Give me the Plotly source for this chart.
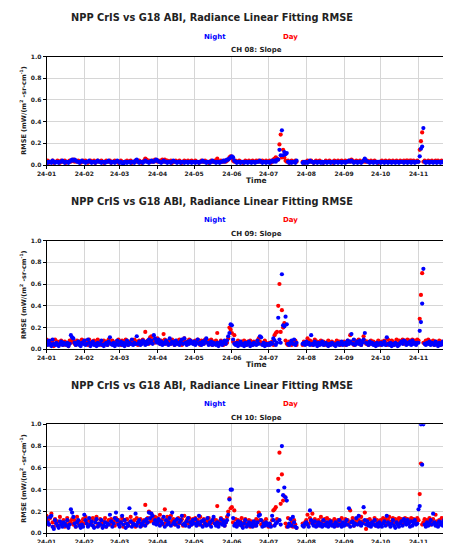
import calendar
import plotly.graph_objects as go

YEAR = 2024
MONTHS = list(range(1, 12))  # Jan .. Nov (axis is cut near the end of November)
N = None  # no matchup on that day

# RMSE values in units of 0.01 mW/(m2 sr cm-1); one list per month, one value per day
CH08_NIGHT = [
    [3,2,3,3,2,4,3,2,3,3, 2,3,3,4,3,2,3,3,2,3, 4,5,4,5,4,3,3,2,3,4, 3],
    [3,2,3,3,4,3,2,3,3,2, 3,4,3,3,2,3,3,2,3,3, 4,3,2,3,3,2,3,4,3],
    [2,3,2,1,3,3,2,3,3,2, 3,3,2,4,5,3,2,3,3,2, 3,4,3,3,2,3,4,3,3,4, 5],
    [4,3,3,2,3,4,3,3,2,3, 3,2,3,4,3,3,2,3,3,2, 3,3,2,3,3,2,3,3,2,3],
    [3,2,3,3,2,3,3,4,3,3, 2,3,3,2,3,4,3,3,2,3, 3,2,3,3,4,3,4,5,5,6, 7],
    [8,7,4,3,2,3,3,2,3,3, 2,3,3,2,3,3,2,3,3,2, 3,3,3,4,3,2,3,3,2,3],
    [3,2,3,4,3,4,3,5,5,14, 9,32,9,12,10,11,3,2,3,2, 3,3,2,4,N,N,N,N,2,3, 2],
    [3,2,3,4,3,3,2,3,3,2, 3,3,2,3,2,3,3,2,3,3, 2,3,3,2,3,3,2,3,3,2, 3],
    [3,2,3,3,4,3,4,3,2,3, 3,2,3,3,2,3,4,6,4,3, 3,2,3,3,2,3,3,2,3,3],
    [2,3,3,2,3,3,2,3,3,2, 3,3,2,3,3,2,3,3,3,2, 3,3,2,3,3,2,3,3,2,3, 3],
    [3,8,15,17,34,3,2,3,3,2, 3,3,2,3,3,2,3,3,2,3, 3,2,3,3,2,3,3,2,3,3],
]
CH08_DAY = [
    [3,4,2,3,3,4,2,3,3,4, 3,2,4,3,3,4,2,3,3,4, 3,4,5,3,4,3,4,3,2,3, 4],
    [3,4,3,2,3,4,3,3,4,2, 3,4,3,3,4,3,2,3,4,3, 3,4,2,3,3,4,3,3,2],
    [3,4,3,2,3,3,4,3,3,4, 2,3,3,4,3,3,4,3,2,3, 4,6,5,3,4,3,3,4,3,5, 4],
    [3,4,3,4,5,3,5,3,4,3, 3,4,2,3,3,4,3,3,4,3, 2,3,4,3,3,4,3,3,4,3],
    [3,4,3,3,2,3,4,3,3,4, 3,3,2,3,4,3,3,4,3,6, 3,3,4,3,3,4,3,4,5,7, 8],
    [6,4,3,4,3,3,4,3,3,2, 3,4,3,3,4,3,3,4,3,3, 4,3,4,3,3,4,3,3,4,3],
    [3,4,2,3,5,6,7,6,5,19, 28,7,14,7,4,3,4,2,3,4, 3,3,4,3,N,N,N,N,3,2, 3],
    [3,4,3,3,4,3,2,3,4,3, 3,4,3,3,2,3,4,3,3,4, 3,3,2,4,3,3,4,3,3,4, 3],
    [3,4,3,3,4,3,5,4,3,3, 4,3,3,4,3,3,4,3,3,4, 3,3,4,3,3,4,3,3,2,3],
    [3,4,3,3,4,3,3,4,3,3, 4,3,3,4,3,3,4,3,3,4, 3,4,4,3,4,4,3,4,3,3, 4],
    [3,14,22,30,3,4,3,3,4,3, 3,4,3,3,4,3,4,3,3,4, 3,3,4,3,3,4,3,3,4,3],
]
CH09_NIGHT = [
    [6,4,8,5,3,9,5,4,6,4, 3,5,7,4,6,5,4,6,3,5, 13,11,10,6,4,5,7,4,3,6, 5],
    [8,4,5,9,6,3,5,7,4,5, 3,6,4,5,8,4,3,5,6,4, 7,11,5,4,6,3,5,8,4],
    [5,7,4,6,3,5,8,4,6,5, 9,4,6,5,12,5,7,4,5,8, 6,4,7,5,9,6,8,5,13,10, 7],
    [6,9,5,7,4,6,5,8,6,4, 10,5,7,6,4,8,5,6,4,7, 9,5,10,6,4,7,5,8,6,5],
    [7,4,6,9,5,6,4,7,5,8, 10,6,4,5,7,4,6,5,4,6, 3,5,7,4,6,8,5,8,12,15, 23],
    [22,9,5,4,6,3,5,7,4,5, 3,6,4,5,7,3,5,4,6,5, 4,8,5,12,11,4,6,3,5,4],
    [5,4,6,5,10,8,4,6,29,9, 6,69,22,21,30,23,5,4,6,8, 5,9,4,6,N,N,N,N,5,6, 4],
    [7,5,6,4,13,5,4,7,5,3, 6,4,5,7,4,5,6,4,3,5, 4,6,5,4,3,5,6,4,5,7, 4],
    [5,6,4,8,5,7,14,5,9,4, 6,7,5,8,4,6,9,15,6,5, 4,7,5,6,4,5,3,6,4,5],
    [6,4,5,7,4,11,5,4,6,3, 5,4,6,5,3,4,6,7,5,8, 7,4,6,5,7,4,8,5,6,4, 6],
    [6,17,25,42,74,5,4,6,5,7, 4,6,5,4,7,5,3,6,4,5, 7,4,6,5,4,6,5,7,4,6],
]
CH09_DAY = [
    [9,5,7,4,8,6,3,9,5,7, 4,6,8,5,4,7,6,5,3,8, 6,9,7,5,4,8,6,7,5,9, 6],
    [5,8,7,4,9,6,5,7,8,4, 6,9,5,7,4,6,8,5,7,4, 9,6,5,8,6,4,7,5,9],
    [6,4,8,5,7,9,6,4,7,5, 8,6,9,5,7,4,8,6,5,9, 7,16,6,8,5,11,12,7,9,6, 8],
    [10,7,5,8,6,14,9,5,7,6, 8,5,9,6,4,7,8,5,9,6, 4,8,10,6,7,5,9,8,6,7],
    [5,8,6,9,7,4,8,6,5,9, 7,6,8,5,9,4,7,6,8,15, 6,5,8,6,4,7,5,6,10,20, 18],
    [15,7,13,6,5,8,4,6,7,5, 8,6,4,7,5,8,6,4,7,5, 6,8,10,7,5,6,4,8,6,5],
    [4,6,5,7,4,13,15,16,40,60, 16,36,20,24,8,5,4,7,5,4, 6,5,8,4,N,N,N,N,4,7, 5],
    [6,10,5,8,7,4,6,9,5,7, 4,6,8,5,7,4,6,5,8,4, 6,7,5,4,6,8,5,7,4,6, 5],
    [7,4,6,8,5,13,7,6,4,8, 5,7,9,6,4,7,12,8,5,7, 4,6,8,5,7,4,6,5,8,6],
    [4,7,5,8,6,4,9,6,5,8, 7,4,6,9,5,8,7,6,9,5, 8,6,9,7,8,5,9,6,8,7, 9],
    [8,28,50,70,6,5,8,6,9,5, 7,6,8,4,7,5,6,8,4,7, 6,5,8,6,7,4,6,8,5,7],
]
CH10_NIGHT = [
    [14,10,8,15,16,6,4,12,9,7, 5,11,8,6,10,9,7,12,5,8, 22,19,15,9,6,10,12,7,5,8, 6],
    [17,12,9,6,14,8,11,7,5,10, 13,6,9,8,12,5,7,10,6,9, 8,17,11,6,9,14,19,12,8],
    [6,10,16,8,12,5,9,7,23,11, 6,9,8,18,7,10,12,6,9,8, 11,7,13,10,19,14,18,16,9,12, 8],
    [10,13,7,11,9,15,6,12,8,10, 14,7,19,9,11,8,13,6,10,12, 16,8,9,7,11,14,6,10,8,12],
    [9,13,7,10,16,8,11,6,12,9, 7,14,8,10,6,12,15,9,7,10, 6,9,13,8,11,7,10,12,17,31, 40],
    [40,14,7,9,6,11,8,10,7,5, 9,12,6,8,10,7,9,6,11,8, 7,10,16,17,12,6,9,7,10,8],
    [7,9,6,16,12,7,9,10,39,12, 8,80,35,42,33,30,6,9,13,7, 15,10,6,5,N,N,N,N,7,6, 9],
    [10,8,6,21,12,9,7,11,6,8, 10,7,9,6,12,8,7,10,6,9, 11,7,8,6,10,9,7,12,8,6, 10],
    [7,9,12,8,23,6,10,11,7,9, 14,8,16,10,7,9,24,12,8,11, 7,9,6,10,8,12,7,9,6,10],
    [8,6,9,11,7,16,10,8,6,9, 12,7,5,10,8,6,9,11,7,13, 10,8,12,9,6,11,7,10,12,8, 9],
    [22,25,100,63,100,8,6,10,7,9, 12,8,18,10,7,9,6,11,8,10, 7,12,9,6,10,8,11,7,9,10],
]
CH10_DAY = [
    [16,12,8,14,18,10,6,13,9,11, 7,15,10,8,12,6,9,14,7,11, 10,13,8,12,6,15,9,11,7,10, 13],
    [9,15,11,7,13,10,8,14,6,12, 15,9,7,13,10,8,11,14,6,10, 12,8,13,9,11,7,14,10,12],
    [8,11,14,6,12,9,13,7,10,15, 11,8,12,6,14,10,9,13,7,11, 12,26,9,14,20,11,18,13,10,15, 12],
    [14,9,17,11,13,8,22,10,15,12, 9,16,11,13,8,12,10,14,9,11, 13,7,16,10,12,9,14,11,8,13],
    [10,14,9,12,8,15,11,7,13,10, 9,12,14,8,11,10,13,9,12,25, 8,11,14,9,12,7,10,15,20,32, 23],
    [24,10,21,13,9,12,8,11,14,7, 10,13,9,8,12,6,11,10,9,7, 13,10,19,12,8,11,7,10,13,9],
    [6,9,7,12,21,22,24,13,50,74, 27,54,30,34,9,6,14,8,7,10, 6,12,8,5,N,N,N,N,9,7, 10],
    [12,17,9,14,11,18,8,13,10,7, 12,9,15,11,8,13,10,14,7,12, 9,11,8,13,10,7,12,9,11,14, 8],
    [10,13,8,12,9,21,11,14,7,10, 13,9,12,8,15,11,10,19,4,12, 9,13,8,11,10,14,7,12,9,11],
    [12,9,14,10,13,8,12,15,9,11, 14,10,13,12,9,14,11,13,8,12, 14,10,13,9,12,14,11,13,10,12, 14],
    [12,36,64,8,10,13,9,12,11,14, 8,10,13,9,17,11,8,12,10,14, 9,13,11,8,12,10,14,9,11,13],
]

PANELS = [
    ("CH 08: Slope", CH08_NIGHT, CH08_DAY),
    ("CH 09: Slope", CH09_NIGHT, CH09_DAY),
    ("CH 10: Slope", CH10_NIGHT, CH10_DAY),
]
MAIN_TITLE = "NPP CrIS vs G18 ABI, Radiance Linear Fitting RMSE"
Y_TITLE = "RMSE (mW/(m<sup>2</sup> -sr-cm<sup>-1</sup>)"
X_TITLE = "Time"
X_RANGE = ["2024-01-01", "2024-12-04 05:00"]
Y_TICKS = [0.0, 0.2, 0.4, 0.6, 0.8, 1.0]
NIGHT_COLOR = "#0000ff"
DAY_COLOR = "#ff0000"


def to_series(month_lists):
    xs, ys = [], []
    for m, vals in zip(MONTHS, month_lists):
        ndays = calendar.monthrange(YEAR, m)[1]
        for d, v in enumerate(vals[:ndays], start=1):
            if v is None:
                continue
            xs.append(f"{YEAR}-{m:02d}-{d:02d}")
            ys.append(v / 100.0)
    return xs, ys


W, H = 451, 543
OFF = 8  # the page body offsets the figure by 8 px
def px(x):
    return (x - OFF) / W
def py(y):
    return 1 - (y - OFF) / H

FONT = "DejaVu Sans"
TXT = "#222222"

# screen-pixel layout of each panel: (title y, legend y, subtitle y, plot top, plot bottom, time label y)
PANEL_PIX = [
    (17.5, 36.5, 50.5, 56.5, 165.0, 180.0),
    (201.5, 220.0, 234.0, 240.5, 349.3, 364.0),
    (385.5, 404.3, 418.3, 424.3, 533.3, 548.0),
]
PLOT_LEFT = 46.5

fig = go.Figure()
layout = dict(
    width=W, height=H,
    margin=dict(l=0, r=0, t=0, b=0),
    paper_bgcolor="white", plot_bgcolor="white",
    showlegend=False,
    template="none",
    font=dict(family=FONT, color=TXT),
)
annotations = []

for i, (sub, night, day) in enumerate(PANELS):
    k = "" if i == 0 else str(i + 1)
    ty, ly, sy, top, bot, tiy = PANEL_PIX[i]
    dx, dy = to_series(day)
    nx, ny = to_series(night)
    fig.add_trace(go.Scatter(x=dx, y=dy, mode="markers", name="Day",
                             marker=dict(color=DAY_COLOR, size=4.2, line=dict(width=0)),
                             xaxis="x" + k, yaxis="y" + k))
    fig.add_trace(go.Scatter(x=nx, y=ny, mode="markers", name="Night",
                             marker=dict(color=NIGHT_COLOR, size=4.2, line=dict(width=0)),
                             xaxis="x" + k, yaxis="y" + k))
    layout["xaxis" + k] = dict(
        domain=[px(PLOT_LEFT), 1.0], anchor="y" + k, type="date", range=X_RANGE,
        tick0="2024-01-01", dtick="M1", tickformat="%y-%m",
        ticks="outside", ticklen=3, tickwidth=0.8, tickcolor="black",
        showline=True, linecolor="black", linewidth=0.8, mirror=True,
        showgrid=True, gridcolor="#d6d6d6", gridwidth=0.8, zeroline=False,
        tickfont=dict(family=FONT, size=6, color=TXT, weight="bold"),
        ticklabeloverflow="allow",
        automargin=False,
    )
    layout["yaxis" + k] = dict(
        domain=[py(bot), py(top)], anchor="x" + k, range=[0, 1],
        tickvals=Y_TICKS, tickformat=".1f",
        ticks="outside", ticklen=3, tickwidth=0.8, tickcolor="black",
        showline=True, linecolor="black", linewidth=0.8, mirror=False,
        showgrid=True, gridcolor="#d6d6d6", gridwidth=0.8, zeroline=False,
        tickfont=dict(family=FONT, size=6, color=TXT, weight="bold"),
        automargin=False,
    )
    annotations += [
        dict(text=MAIN_TITLE, x=px(212), y=py(ty), xref="paper", yref="paper",
             showarrow=False, xanchor="center", yanchor="middle",
             font=dict(family=FONT, size=9.8, color=TXT, weight="bold")),
        dict(text="Night", x=px(215), y=py(ly), xref="paper", yref="paper",
             showarrow=False, xanchor="center", yanchor="middle",
             font=dict(family=FONT, size=7, color=NIGHT_COLOR, weight="bold")),
        dict(text="Day", x=px(290), y=py(ly), xref="paper", yref="paper",
             showarrow=False, xanchor="center", yanchor="middle",
             font=dict(family=FONT, size=7, color=DAY_COLOR, weight="bold")),
        dict(text=sub, x=px(256), y=py(sy), xref="paper", yref="paper",
             showarrow=False, xanchor="center", yanchor="middle",
             font=dict(family=FONT, size=7, color=TXT, weight="bold")),
        dict(text=Y_TITLE, x=px(24), y=py((top + bot) / 2), xref="paper", yref="paper",
             showarrow=False, xanchor="center", yanchor="middle", textangle=-90,
             font=dict(family=FONT, size=6.5, color=TXT, weight="bold")),
    ]
    if tiy < H:
        annotations.append(
            dict(text=X_TITLE, x=px(256), y=py(tiy), xref="paper", yref="paper",
                 showarrow=False, xanchor="center", yanchor="middle",
                 font=dict(family=FONT, size=7.5, color=TXT, weight="bold")))

layout["annotations"] = annotations
fig.update_layout(**layout)
fig.write_html("out.html")
